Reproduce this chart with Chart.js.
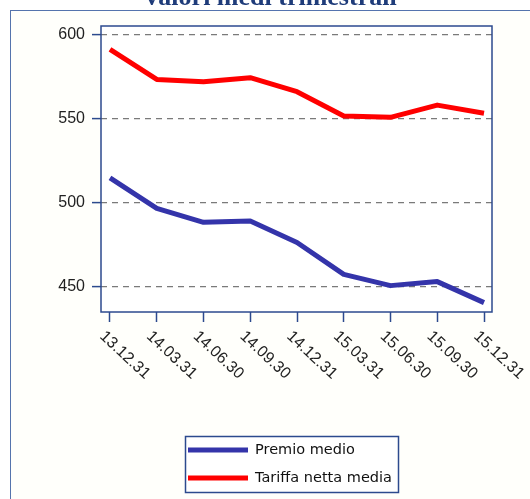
<!DOCTYPE html>
<html>
<head>
<meta charset="utf-8">
<script src="https://cdn.jsdelivr.net/npm/chart.js@4/dist/chart.umd.min.js"></script>
<style>
  html, body { margin: 0; padding: 0; background: #fff; }
  #wrap { position: relative; width: 530px; height: 499px; overflow: hidden; }
  #frame { position: absolute; left: 10px; top: 10px; width: 540px; height: 520px; border: 1.5px solid #5574ad; background: #fffffb; }
  canvas { position: absolute; left: 0; top: 0; }
</style>
</head>
<body>
<div id="wrap">
  <div id="frame"></div>
  <canvas id="chart" width="530" height="499"></canvas>
</div>
<script>
// quarter-end dates (yy.mm.dd)
const quarters = ["13.12.31", "14.03.31", "14.06.30", "14.09.30", "14.12.31", "15.03.31", "15.06.30", "15.09.30", "15.12.31"];
const premioMedio = [515, 496.8, 488.5, 489.3, 476.5, 457.5, 450.8, 453.2, 440.7];
const tariffaNettaMedia = [591.5, 573.6, 572.2, 574.6, 566.3, 551.8, 551.0, 558.3, 553.4];
const yTicks = [450, 500, 550, 600];
const chartTitle = "valori medi trimestrali";

const axisColor = "#2c4a8e";

// draws the plot frame, rotated date labels, the cut-off title and the boxed legend
const decorations = {
  id: "decorations",
  beforeDraw(chart) {
    const { ctx, chartArea: a } = chart;
    ctx.save();
    ctx.fillStyle = "#ffffff";
    ctx.fillRect(a.left, a.top, a.right - a.left, a.bottom - a.top);
    ctx.restore();
  },
  afterDraw(chart) {
    const { ctx, chartArea: a } = chart;
    const xs = chart.scales.x;

    // plot border
    ctx.save();
    ctx.strokeStyle = axisColor;
    ctx.lineWidth = 1.5;
    ctx.strokeRect(a.left, a.top, a.right - a.left, a.bottom - a.top);
    ctx.restore();

    // x labels, going down to the right
    ctx.save();
    ctx.font = '16px "Liberation Sans"';
    ctx.fillStyle = "#222";
    ctx.textAlign = "left";
    ctx.textBaseline = "middle";
    quarters.forEach((q, i) => {
      const px = xs.getPixelForValue(i);
      ctx.save();
      ctx.translate(px - 8, a.bottom + 22);
      ctx.rotate(Math.PI / 4.2);
      ctx.fillText(q, 0, 0);
      ctx.restore();
    });
    ctx.restore();

    // title (only its lower part shows)
    ctx.save();
    ctx.font = 'bold 26px "Liberation Serif"';
    ctx.fillStyle = "#1f3c7a";
    ctx.textAlign = "center";
    ctx.textBaseline = "alphabetic";
    ctx.fillText(chartTitle, 271, 5);
    ctx.restore();

    // legend
    ctx.save();
    ctx.fillStyle = "#ffffff";
    ctx.fillRect(185.5, 436.5, 213, 56);
    ctx.strokeStyle = axisColor;
    ctx.lineWidth = 1.5;
    ctx.strokeRect(185.5, 436.5, 213, 56);
    ctx.font = '14.5px "DejaVu Sans"';
    ctx.textAlign = "left";
    ctx.textBaseline = "middle";
    chart.data.datasets.forEach((ds, i) => {
      const y = 450 + i * 28;
      ctx.fillStyle = ds.borderColor;
      ctx.fillRect(188, y - 2.5, 60, 5);
      ctx.fillStyle = "#111";
      ctx.fillText(ds.label, 255, y);
    });
    ctx.restore();
  }
};

new Chart(document.getElementById("chart"), {
  type: "line",
  data: {
    datasets: [
      {
        label: "Premio medio",
        data: premioMedio.map((v, i) => ({ x: i, y: v })),
        borderColor: "#3434aa",
        backgroundColor: "#3434aa"
      },
      {
        label: "Tariffa netta media",
        data: tariffaNettaMedia.map((v, i) => ({ x: i, y: v })),
        borderColor: "#ff0000",
        backgroundColor: "#ff0000"
      }
    ]
  },
  options: {
    responsive: false,
    animation: false,
    layout: { padding: { left: 0, top: 26, right: 38, bottom: 0 } },
    plugins: {
      legend: { display: false },
      title: { display: false },
      tooltip: { enabled: false }
    },
    elements: {
      point: { radius: 0 },
      line: { borderWidth: 5, tension: 0, borderJoinStyle: "round" }
    },
    scales: {
      x: {
        type: "linear",
        min: -0.1925,
        max: 8.171,
        afterBuildTicks: (s) => { s.ticks = quarters.map((_, i) => ({ value: i })); },
        afterFit: (s) => { s.height = 187; },
        grid: { drawOnChartArea: false, tickLength: 10, tickColor: axisColor, tickWidth: 1.5 },
        border: { display: false },
        ticks: { display: false }
      },
      y: {
        min: 435.1,
        max: 605.4,
        afterBuildTicks: (s) => { s.ticks = yTicks.map((v) => ({ value: v })); },
        afterFit: (s) => { s.width = 101; },
        grid: { color: "#7a7a7a", lineWidth: 1.2, tickLength: 9, tickColor: axisColor, tickWidth: 1.5 },
        border: { display: false, dash: [6, 5] },
        ticks: { color: "#222", font: { family: "Liberation Sans", size: 16 }, padding: 7 }
      }
    }
  },
  plugins: [decorations]
});
</script>
</body>
</html>
